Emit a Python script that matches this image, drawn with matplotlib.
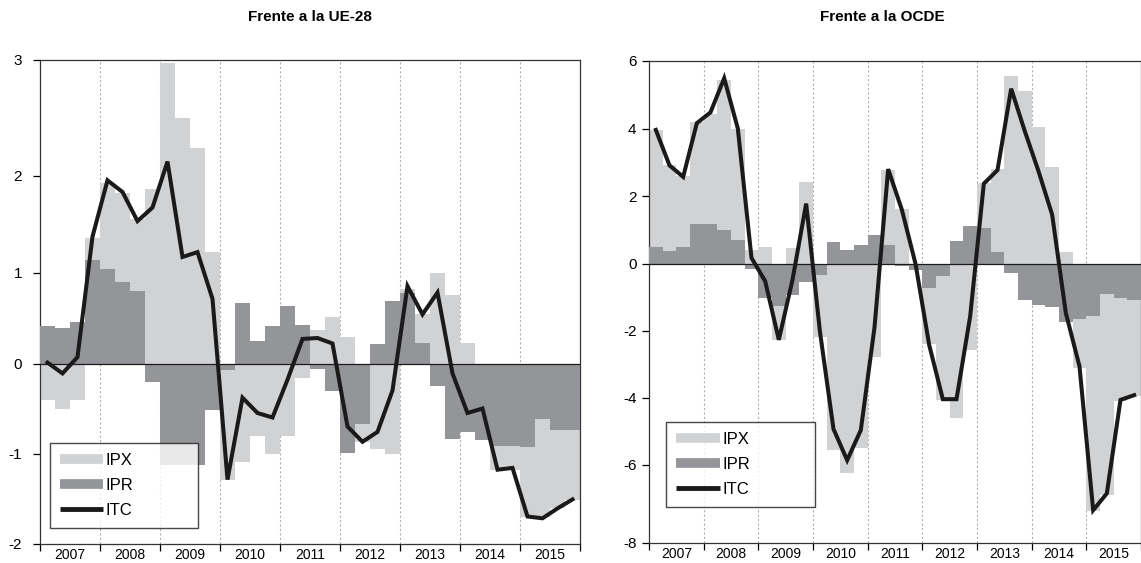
import numpy as np
import matplotlib
matplotlib.use("Agg")
import matplotlib.pyplot as plt
from matplotlib.lines import Line2D
from matplotlib.ticker import FixedLocator, NullLocator

plt.rcParams["font.family"] = ["Liberation Sans", "DejaVu Sans"]

years = ["2007", "2008", "2009", "2010", "2011", "2012", "2013", "2014", "2015"]
n_quarters = 36

# Frente a la UE-28 (trimestral)
ue_ipx = [-0.41, -0.51, -0.41, 1.36, 1.92, 1.82, 1.55, 1.86, 2.97, 2.50, 2.24, 1.21,
          -1.29, -1.09, -0.81, -1.00, -0.81, -0.16, 0.37, 0.51, 0.29, -0.87, -0.95, -1.00,
          0.82, 0.54, 0.99, 0.75, 0.22, -0.60, -1.18, -1.18, -1.70, -1.71, -1.60, -1.52]
ue_ipr = [0.41, 0.39, 0.46, 1.13, 1.04, 0.90, 0.80, -0.20, -1.13, -1.13, -1.13, -0.52,
          -0.07, 0.67, 0.25, 0.41, 0.63, 0.42, -0.06, -0.30, -0.99, -0.67, 0.21, 0.69,
          0.78, 0.22, -0.25, -0.84, -0.76, -0.85, -0.92, -0.92, -0.93, -0.62, -0.74, -0.74]
ue_itc = [0.01, -0.11, 0.07, 1.37, 1.95, 1.83, 1.53, 1.67, 2.12, 1.16, 1.21, 0.71,
          -1.29, -0.38, -0.55, -0.60, -0.18, 0.27, 0.28, 0.22, -0.70, -0.87, -0.76, -0.30,
          0.85, 0.54, 0.78, -0.11, -0.55, -0.50, -1.18, -1.16, -1.70, -1.72, -1.61, -1.51]

# Frente a la OCDE
oc_ipx = [3.96, 2.91, 2.59, 4.20, 4.43, 5.45, 3.98, 0.42, 0.50, -2.27, 0.47, 2.43,
          -2.19, -5.55, -6.20, -5.50, -2.77, 2.78, 1.62, -0.10, -2.40, -4.06, -4.60, -2.57,
          2.39, 2.79, 5.57, 5.10, 4.05, 2.86, 0.35, -3.10, -7.17, -6.77, -4.10, -3.95]
oc_ipr = [0.50, 0.39, 0.50, 1.17, 1.19, 1.01, 0.71, -0.15, -1.02, -1.27, -0.92, -0.55,
          -0.33, 0.64, 0.42, 0.56, 0.86, 0.54, -0.06, -0.20, -0.73, -0.36, 0.66, 1.13,
          1.06, 0.34, -0.28, -1.09, -1.22, -1.29, -1.75, -1.64, -1.55, -0.90, -1.02, -1.09]
oc_itc = [3.96, 2.91, 2.57, 4.16, 4.48, 5.49, 4.00, 0.17, -0.52, -2.27, -0.48, 1.78,
          -2.00, -4.93, -5.86, -4.96, -1.90, 2.80, 1.60, 0.00, -2.42, -4.04, -4.04, -1.57,
          2.37, 2.77, 5.18, 3.92, 2.74, 1.45, -1.47, -3.06, -7.16, -6.73, -4.06, -3.92]

ue_ticks = [-2, -1, 0, 1, 2, 3]
oc_ticks = [-8, -6, -4, -2, 0, 2, 4, 6]

light = "#d1d2d4"
dark = "#949598"
black = "#1a1a1a"


def tick_scale(vals, pos):
    # the printed axis has slightly uneven tick spacing
    vals = np.array(vals, float)
    pos = np.array(pos, float)
    return (lambda v: np.interp(v, vals, pos), lambda p: np.interp(p, pos, vals))


def panel(ax, ipx, ipr, itc, ticks, tick_pos, xmax, ypad, legend_box):
    x = np.arange(n_quarters) + 0.5
    ax.bar(x, ipx, width=1.0, color=light, linewidth=0, zorder=2)
    ax.bar(x, ipr, width=1.0, color=dark, linewidth=0, zorder=3)
    ax.axhline(0, color=black, lw=0.9, zorder=4)
    ax.plot(x, itc, color=black, lw=2.9, solid_joinstyle="miter", zorder=5)
    for i in range(1, len(years)):
        ax.axvline(4 * i, color="#b0b0b0", lw=0.8, ls=(0, (2, 2)), zorder=1)

    ax.set_yscale("function", functions=tick_scale(ticks, tick_pos))
    ax.set_ylim(ticks[0], ticks[-1])
    ax.yaxis.set_major_locator(FixedLocator(ticks))
    ax.yaxis.set_minor_locator(NullLocator())
    ax.set_yticklabels([str(t) for t in ticks])

    ax.set_xlim(0, xmax)
    ax.set_xticks([4 * i for i in range(len(years) + 1)])
    ax.set_xticklabels([])
    ax.set_xticks([4 * i + 2 for i in range(len(years))], minor=True)
    ax.set_xticklabels(years, minor=True)
    ax.tick_params(axis="x", which="major", direction="out", length=5, width=0.9)
    ax.tick_params(axis="x", which="minor", length=0, pad=3, labelsize=10)
    ax.tick_params(axis="y", direction="out", length=5, width=0.9, pad=ypad, labelsize=11)
    for s in ax.spines.values():
        s.set_linewidth(0.9)
        s.set_color("#333333")

    handles = [Line2D([], [], color=light, lw=7, solid_capstyle="butt"),
               Line2D([], [], color=dark, lw=7, solid_capstyle="butt"),
               Line2D([], [], color=black, lw=3.5, solid_capstyle="butt")]
    leg = ax.legend(handles, ["IPX", "IPR", "ITC"], loc="lower left",
                    bbox_to_anchor=legend_box, mode="expand", fontsize=12,
                    frameon=True, fancybox=False, edgecolor=black,
                    handlelength=2.6, handletextpad=0.15, labelspacing=0.6,
                    borderpad=0.6, borderaxespad=0)
    leg.get_frame().set_linewidth(1.0)
    leg.set_zorder(10)


fig = plt.figure(figsize=(11.41, 5.63), dpi=100)
W, H = 1141, 563
ax1 = fig.add_axes([40 / W, (H - 543.5) / H, 540 / W, 484 / H])
ax2 = fig.add_axes([649 / W, (H - 543) / H, 492 / W, 482 / H])

panel(ax1, ue_ipx, ue_ipr, ue_itc, ue_ticks,
      [0, 90, 180, 271, 368, 484], n_quarters, 8, (0.0185, 0.032, 0.274, 0.18))
panel(ax2, oc_ipx, oc_ipr, oc_itc, oc_ticks,
      [0, 78, 145, 212, 279, 346.5, 414, 481.5], 35.55, 4, (0.035, 0.075, 0.303, 0.178))

fig.text(310 / W, 1 - 17 / H, "Frente a la UE-28", ha="center", va="center",
         fontsize=11, fontweight="bold")
fig.text(882 / W, 1 - 17 / H, "Frente a la OCDE", ha="center", va="center",
         fontsize=11, fontweight="bold")

fig.savefig("out.png", dpi=100)
